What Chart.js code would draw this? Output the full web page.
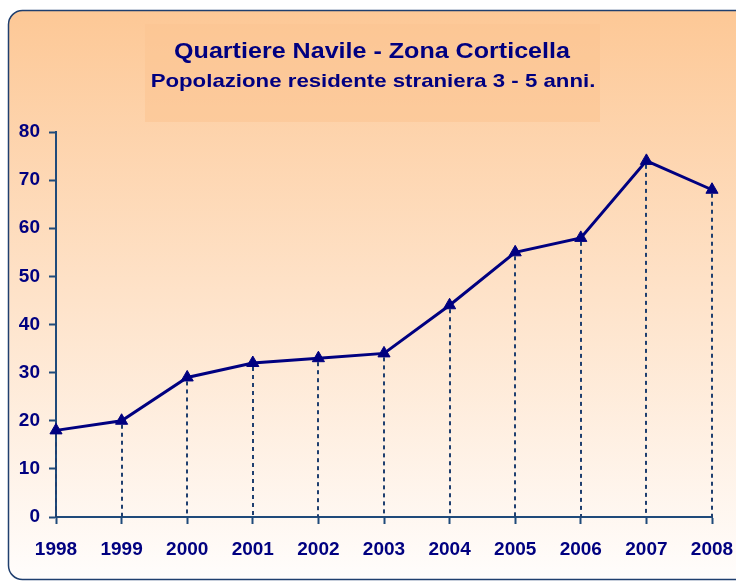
<!DOCTYPE html>
<html>
<head>
<meta charset="utf-8">
<script src="https://cdn.jsdelivr.net/npm/chart.js@4/dist/chart.umd.min.js"></script>
<style>
  html, body { margin: 0; padding: 0; background: #fff; }
  #wrap { width: 736px; height: 585px; position: relative; }
</style>
</head>
<body>
<div id="wrap"><canvas id="chart"></canvas></div>
<script>
const years = ["1998", "1999", "2000", "2001", "2002", "2003", "2004", "2005", "2006", "2007", "2008"];
const residents = [18, 20, 29, 32, 33, 34, 44, 55, 58, 74, 68];
const yTicks = [0, 10, 20, 30, 40, 50, 60, 70, 80];

const titleText = "Quartiere Navile - Zona Corticella";
const subtitleText = "Popolazione residente straniera 3 - 5 anni.";

const navy = "#000080";
const axisBlue = "#1f4a7a";
const font = "'Liberation Sans', Arial, sans-serif";

// testo un po' allargato come nell'originale
function wideText(c, text, cx, baseline, stretch) {
  c.save();
  c.translate(cx, baseline);
  c.scale(stretch, 1);
  c.fillText(text, 0, 0);
  c.restore();
}

// sfondo con bordo arrotondato, riquadro del titolo
const backdrop = {
  id: "backdrop",
  beforeDraw(chart) {
    const c = chart.ctx;
    c.save();
    const x = 8.5, y = 10.5, w = 740, h = 569, r = 14;
    const g = c.createLinearGradient(0, y, 0, y + h);
    g.addColorStop(0, "#fdc896");
    g.addColorStop(1, "#fffdfc");
    c.beginPath();
    c.roundRect(x, y, w, h, r);
    c.fillStyle = g;
    c.fill();
    c.lineWidth = 1.5;
    c.strokeStyle = "#1f3f6f";
    c.stroke();

    c.fillStyle = "rgba(252, 196, 146, 0.6)";
    c.fillRect(145, 24, 455, 98);

    c.fillStyle = navy;
    c.textAlign = "center";
    c.textBaseline = "alphabetic";
    c.font = "bold 22px " + font;
    wideText(c, titleText, 372, 58, 1.14);
    c.font = "bold 19px " + font;
    wideText(c, subtitleText, 373, 87, 1.17);
    c.restore();
  }
};

// linee verticali tratteggiate dai punti all'asse
const dropLines = {
  id: "dropLines",
  beforeDatasetsDraw(chart) {
    const c = chart.ctx;
    const yScale = chart.scales.y;
    const meta = chart.getDatasetMeta(0);
    c.save();
    c.strokeStyle = "#1f3f6f";
    c.lineWidth = 2;
    c.setLineDash([4, 4]);
    meta.data.forEach((pt) => {
      const px = Math.round(pt.x);
      c.beginPath();
      c.moveTo(px, pt.y + 4);
      c.lineTo(px, yScale.bottom);
      c.stroke();
    });
    c.restore();
  }
};

const ctx = document.querySelector("#chart");

new Chart(ctx, {
  type: "line",
  data: {
    labels: years,
    datasets: [
      {
        data: residents,
        borderColor: navy,
        backgroundColor: navy,
        borderWidth: 3,
        pointStyle: "triangle",
        pointRadius: 7,
        pointHoverRadius: 7,
        pointBorderWidth: 1,
        tension: 0
      }
    ]
  },
  options: {
    responsive: true,
    maintainAspectRatio: false,
    animation: false,
    layout: {
      padding: { left: 0, top: 132, right: 24, bottom: 0 }
    },
    plugins: {
      legend: { display: false },
      tooltip: { enabled: false }
    },
    scales: {
      x: {
        type: "category",
        offset: false,
        grid: {
          drawOnChartArea: false,
          drawTicks: true,
          tickLength: 7,
          tickWidth: 2,
          tickColor: axisBlue
        },
        border: { display: true, color: axisBlue, width: 2 },
        ticks: {
          color: navy,
          padding: 14,
          maxRotation: 0,
          autoSkip: false,
          font: { family: font, size: 19, weight: "bold" }
        },
        afterFit(scale) {
          scale.height = 68;
          scale.paddingLeft = 0;
          scale.paddingRight = 0;
        }
      },
      y: {
        min: 0,
        max: 80,
        afterBuildTicks(scale) {
          scale.ticks = yTicks.map((v) => ({ value: v }));
        },
        grid: {
          drawOnChartArea: false,
          drawTicks: true,
          tickLength: 7,
          tickWidth: 2,
          tickColor: axisBlue
        },
        border: { display: true, color: axisBlue, width: 2 },
        ticks: {
          color: navy,
          padding: 9,
          font: { family: font, size: 19, weight: "bold" }
        },
        afterFit(scale) { scale.width = 56; }
      }
    }
  },
  plugins: [backdrop, dropLines]
});
</script>
</body>
</html>
